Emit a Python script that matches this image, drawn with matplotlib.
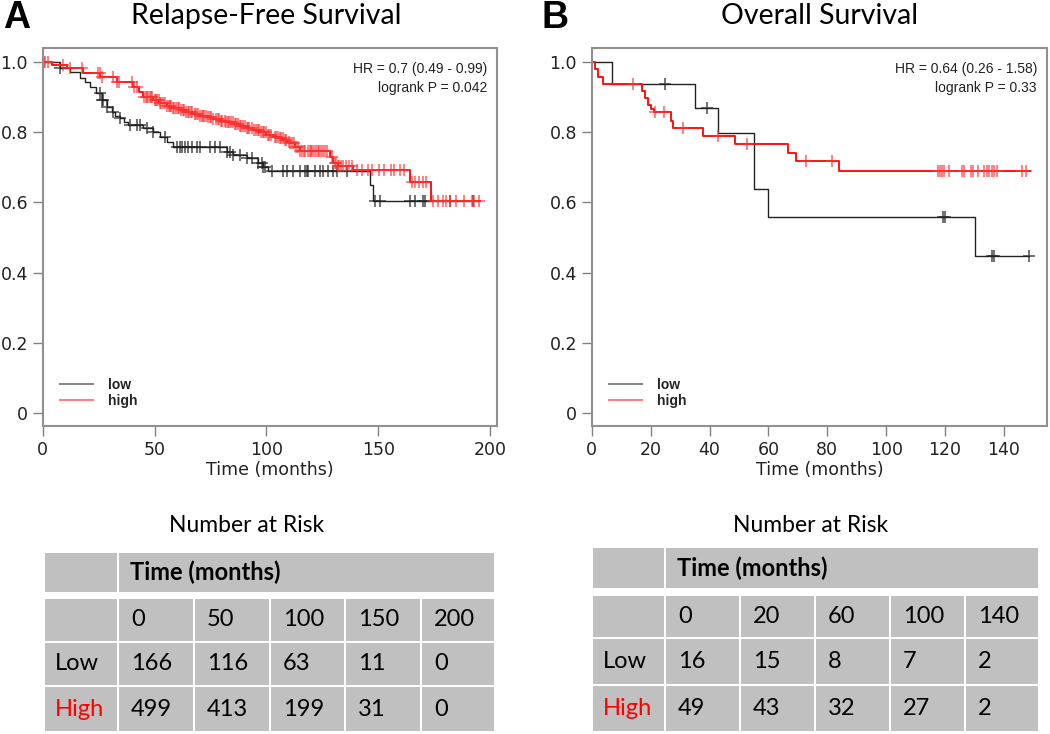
import numpy as np
from matplotlib import pyplot as plt
from matplotlib.lines import Line2D
from matplotlib.patches import Rectangle

# ---- panel A: relapse-free survival (step times / survival after step) ----
rfs_low_t = [0, 7.7, 12.2, 16.7, 19, 21, 24, 26.4, 28.6, 30.8, 32.5, 34.6, 36.5, 38.3, 45, 49.5, 52.5,
             55.4, 58.4, 82.3, 85.2, 91.2, 96.4, 98.7, 100.9, 146.5, 147.5, 195]
rfs_low_s = [1.0, 0.983, 0.973, 0.955, 0.945, 0.93, 0.912, 0.893, 0.873, 0.858, 0.848, 0.84, 0.83, 0.821,
             0.812, 0.8, 0.788, 0.774, 0.759, 0.745, 0.735, 0.726, 0.712, 0.702, 0.691, 0.65, 0.604, 0.604]
rfs_low_cens = [7.7, 25.6, 26.4, 27.1, 28.6, 31.6, 34.6, 39, 42, 43.5, 46.5, 49.5, 54.7, 59.9, 61.4, 62.1,
                63.6, 65.1, 66.6, 68.9, 70.3, 74.8, 77, 79.3, 82.3, 83.8, 85.2, 88.2, 91.2, 93.4, 96.4,
                97.9, 98.7, 99.4, 102.4, 107.6, 109.1, 112.1, 115, 117.3, 118, 118.8, 121.8, 124, 125.5,
                127.7, 130, 131.4, 135.9, 148.6, 150.8, 164.2, 166.5, 169.9, 170.9, 182.1, 192.5]

rfs_high_t = [0, 4, 10.7, 18, 25.6, 33, 40.5, 43, 45, 49.5, 52, 55.4, 58, 61.4, 64, 67.4, 70, 73.3, 76,
              79.3, 82, 85.2, 88, 91.2, 94, 97.2, 100, 103.1, 105.5, 107.6, 109, 110.6, 112.8, 115, 128.5,
              130, 132, 138.9, 164.2, 173.5, 195.5]
rfs_high_s = [1.0, 0.993, 0.983, 0.97, 0.959, 0.945, 0.929, 0.915, 0.902, 0.892, 0.884, 0.875, 0.87, 0.864,
              0.858, 0.852, 0.848, 0.843, 0.838, 0.833, 0.829, 0.824, 0.818, 0.812, 0.806, 0.8, 0.794,
              0.788, 0.783, 0.778, 0.773, 0.769, 0.759, 0.748, 0.731, 0.712, 0.703, 0.693, 0.659, 0.604,
              0.604]
rfs_high_cens = [0.5, 1, 2.5, 9, 12, 17.5, 24.8, 25.5, 26.3, 31.5, 33, 34.2, 39.8, 41, 42.2, 45.5, 46, 46.6,
                 47.1, 47.9, 48.4, 49, 50.2, 50.7, 51, 51.8, 52.4, 53.1, 54, 54.6, 55.6, 56.3, 57, 57.5,
                 58.2, 58.8, 59.6, 60.4, 61.1, 61.8, 62.5, 63.3, 64.1, 64.8, 65.4, 66.1, 66.7, 67.9, 68.6,
                 69.3, 70.1, 71.2, 71.8, 72.3, 72.9, 74.1, 74.8, 75.4, 76.2, 77.5, 78.3, 78.9, 79.6, 80.2,
                 81.4, 82.1, 82.7, 83.5, 84.1, 85, 85.9, 86.6, 87.3, 88.1, 88.8, 89.5, 90.6, 91.2, 91.8,
                 92.4, 93.7, 94.6, 95.5, 96.2, 96.8, 97.6, 98.3, 98.9, 99.7, 100.5, 101.2, 102.1, 103.8,
                 104.5, 105.1, 105.9, 106.7, 107.5, 108.2, 108.9, 110.1, 110.7, 111.3, 112.2, 113.4, 114.1,
                 115.2, 115.8, 116.6, 117.4, 118.5, 119.3, 120.1, 120.6, 121.2, 122, 123.1, 123.7, 124.3,
                 125.2, 126.1, 127.3, 129.2, 130.5, 131.3, 132.1, 132.6, 133.5, 134.4, 135.6, 136.9, 138.2,
                 140.6, 142.8, 145.3, 147.2, 150.4, 152.6, 155.8, 157.1, 159.9, 161.5, 165.3, 166.4, 168.1,
                 170.2, 171.3, 174.6, 176.5, 178.8, 180.4, 182.3, 184.9, 188.2, 191.7, 192.9, 195]

# ---- panel B: overall survival ----
os_low_t = [0, 7, 35, 43, 55, 60, 130, 148.6]
os_low_s = [1.0, 0.9375, 0.871, 0.798, 0.638, 0.558, 0.446, 0.446]
os_low_cens = [25, 39, 119.3, 120, 135.8, 136.6, 148.6]

os_high_t = [0, 1, 2.2, 3.7, 17, 18, 19, 20, 21, 26.8, 27.6, 37.8, 48.8, 66.7, 69.5, 83.9, 148.9]
os_high_s = [1.0, 0.98, 0.959, 0.939, 0.918, 0.898, 0.878, 0.867, 0.857, 0.833, 0.814, 0.79, 0.767,
             0.742, 0.719, 0.69, 0.69]
os_high_cens = [14, 21.5, 24.7, 31, 42.9, 52.7, 72.6, 81.7, 117.7, 118.3, 118.8, 119.7, 121.3, 125.6,
                126.4, 128.7, 129.6, 131.3, 133.3, 134.1, 134.9, 135.8, 136.6, 137.5, 146, 147.5]

# ---- number at risk tables ----
rfs_risk_times = ['0', '50', '100', '150', '200']
rfs_risk_low = ['166', '116', '63', '11', '0']
rfs_risk_high = ['499', '413', '199', '31', '0']
os_risk_times = ['0', '20', '60', '100', '140']
os_risk_low = ['16', '15', '8', '7', '2']
os_risk_high = ['49', '43', '32', '27', '2']

W, H = 1050, 734
fig = plt.figure(figsize=(W / 100, H / 100), dpi=100)
TITLE_FONT = ['Lato', 'DejaVu Sans']
SMALL_FONT = ['Liberation Sans', 'DejaVu Sans']
GRAY = '#c0c0c0'


def fx(x):
    return x / W


def fy(y):
    return 1 - y / H


def step_value(times, surv, t):
    idx = np.searchsorted(times, t, side='right') - 1
    return np.asarray(surv)[idx]


def km_panel(rect, xmax, xticks, low, high, hr_text, ms):
    ax = fig.add_axes(rect)
    styles = [(low, '#222222', '#222222', 1.0, 0.75), (high, '#ff1010', '#ff3030', 1.4, 0.7)]
    for (t, s, cens), color, mcol, lw, alpha in styles:
        ax.step(t, s, where='post', color=color, lw=lw)
        ax.plot(cens, step_value(t, s, cens), ls='none', marker='+', ms=ms, mew=1.2,
                color=mcol, alpha=alpha)
    ax.set_xlim(0, xmax)
    ax.set_ylim(-0.038, 1.041)
    ax.set_xticks(xticks)
    ax.set_yticks([0, 0.2, 0.4, 0.6, 0.8, 1.0])
    ax.set_yticklabels(['0', '0.2', '0.4', '0.6', '0.8', '1.0'])
    ax.tick_params(direction='out', length=7, width=1, color='#808080', labelsize=12.5, labelcolor='#222222')
    ax.tick_params(axis='x', pad=4)
    for sp in ax.spines.values():
        sp.set_color('#909090')
        sp.set_linewidth(1.5)
    ax.set_xlabel('Time (months)', fontsize=12.5, labelpad=1, color='#222222')
    ax.text(0.978, 0.962, hr_text, transform=ax.transAxes, ha='right', va='top', fontsize=10,
            family=SMALL_FONT, linespacing=1.45, color='#222222')
    handles = [Line2D([], [], color='#888888', lw=1.5), Line2D([], [], color='#ff8080', lw=1.5)]
    ax.legend(handles, ['low', 'high'], loc='lower left', bbox_to_anchor=(0.01, 0.015), frameon=False,
              prop={'family': SMALL_FONT, 'size': 10, 'weight': 'bold'}, handlelength=2.4,
              handletextpad=1.1, labelspacing=0.12, labelcolor='#222222')
    return ax


km_panel([fx(42.7), fy(426), fx(497) - fx(42.7), fy(48) - fy(426)], 203.1, [0, 50, 100, 150, 200],
         (rfs_low_t, rfs_low_s, rfs_low_cens), (rfs_high_t, rfs_high_s, rfs_high_cens),
         'HR = 0.7 (0.49 - 0.99)\nlogrank P = 0.042', 8)
km_panel([fx(591.7), fy(426), fx(1047) - fx(591.7), fy(48) - fy(426)], 154.6, [0, 20, 40, 60, 80, 100, 120, 140],
         (os_low_t, os_low_s, os_low_cens), (os_high_t, os_high_s, os_high_cens),
         'HR = 0.64 (0.26 - 1.58)\nlogrank P = 0.33', 8.5)

# panel letters and titles
fig.text(fx(3), fy(18), 'A', fontsize=27, weight='bold', family=SMALL_FONT, va='center')
fig.text(fx(541), fy(18), 'B', fontsize=27, weight='bold', family=SMALL_FONT, va='center')
fig.text(fx(266), fy(16), 'Relapse-Free Survival', fontsize=20.5, family=TITLE_FONT, ha='center', va='center')
fig.text(fx(820), fy(16), 'Overall Survival', fontsize=20.5, family=TITLE_FONT, ha='center', va='center')


def risk_table(xe, header_y, rows_y, times, low, high, title_x):
    fig.text(fx(title_x), fy(525), 'Number at Risk', fontsize=16.5, family=TITLE_FONT, ha='center',
             va='center')
    gap = 1

    def cell(x0, x1, y0, y1):
        fig.add_artist(Rectangle((fx(x0 + gap), fy(y1 - gap)), fx(x1 - x0 - 2 * gap), (y1 - y0 - 2 * gap) / H,
                                 facecolor=GRAY, edgecolor='none'))

    cell(xe[0], xe[1], *header_y)
    cell(xe[1], xe[-1], *header_y)
    fig.text(fx(xe[1] + 12), fy((header_y[0] + header_y[1]) / 2), 'Time (months)', fontsize=17,
             weight='bold', family=TITLE_FONT, va='center')
    labels = [('', 'black', times), ('Low', 'black', low), ('High', 'red', high)]
    for (y0, y1), (name, col, vals) in zip(rows_y, labels):
        yc = fy((y0 + y1) / 2)
        for i in range(6):
            cell(xe[i], xe[i + 1], y0, y1)
        fig.text(fx(xe[0] + 11), yc, name, fontsize=17, family=TITLE_FONT, color=col, va='center')
        for i, v in enumerate(vals):
            fig.text(fx(xe[i + 1] + 13), yc, v, fontsize=17, family=TITLE_FONT, color='black', va='center')


risk_table([44, 118, 194, 270, 345, 421, 495], (552, 593), [(598, 642), (642, 686), (686, 732)],
           rfs_risk_times, rfs_risk_low, rfs_risk_high, 247)
risk_table([592, 665, 740, 815, 890, 965, 1039], (547, 589), [(595, 638), (638, 685), (685, 732)],
           os_risk_times, os_risk_low, os_risk_high, 811)

fig.savefig('out.png', dpi=100)
